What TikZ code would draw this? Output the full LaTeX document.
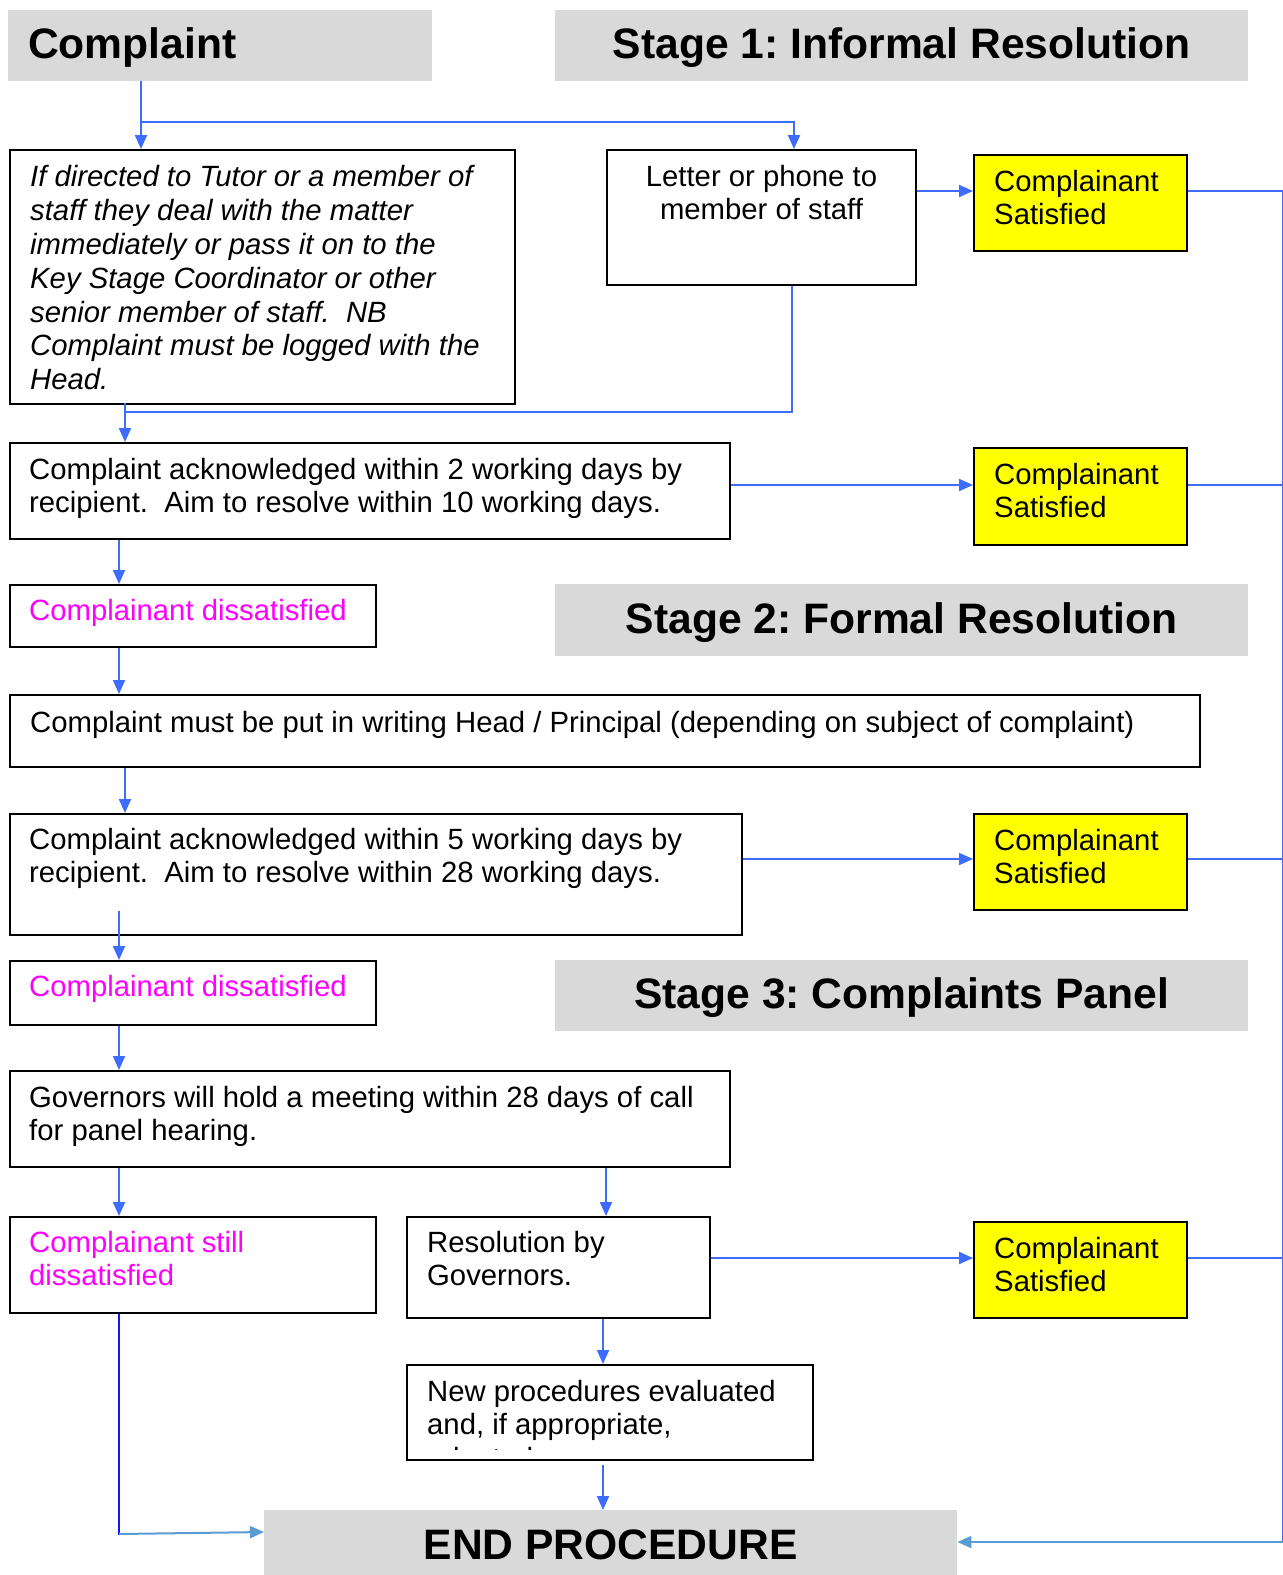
\documentclass[tikz,border=0pt]{standalone}
\usepackage{fontspec}
\setmainfont{Liberation Sans}
\usetikzlibrary{arrows.meta,calc}
\definecolor{hdrgray}{RGB}{217,217,217}
\definecolor{ln}{RGB}{61,108,255}
\definecolor{lnl}{RGB}{91,155,213}
\definecolor{lnd}{RGB}{20,20,250}
\definecolor{mag}{RGB}{255,0,255}
\definecolor{ylw}{RGB}{255,255,0}
\frenchspacing
\begin{document}
\begin{tikzpicture}[x=1pt,y=-1pt,
  box/.style={draw=black,line width=2pt,fill=white,inner sep=0pt,anchor=north west},
  ybox/.style={box,fill=ylw},
  hdr/.style={fill=hdrgray,inner sep=0pt,anchor=north west},
  txt/.style={anchor=north west,inner sep=0pt,align=left,font=\fontsize{29.3}{33.5}\selectfont},
  htxt/.style={inner sep=0pt,font=\fontsize{42.6}{50}\selectfont\bfseries},
  lnline/.style={draw=ln,line width=2pt},
  arr/.style={lnline,-{Triangle[width=12pt,length=14pt]}},
  arrl/.style={draw=lnl,line width=2pt,-{Triangle[width=12pt,length=14pt]}},
]
\useasboundingbox (0,0) rectangle (1283,1575);
\fill[white] (0,0) rectangle (1283,1575);

% headers
\node[hdr,minimum width=424,minimum height=71] (cmp) at (8,10) {};
\node[hdr,minimum width=693,minimum height=71] (s1) at (555,10) {};
\node[hdr,minimum width=693,minimum height=72] (s2) at (555,584) {};
\node[hdr,minimum width=693,minimum height=71] (s3) at (555,960) {};
\node[hdr,minimum width=693,minimum height=65] (endp) at (264,1510) {};
\node[htxt,anchor=west] (cmpt) at ($(cmp.west)+(20,2)$) {Complaint};
\node[htxt] (s1t) at ($(s1.center)+(0,2)$) {Stage 1: Informal Resolution};
\node[htxt] (s2t) at ($(s2.center)+(0,2)$) {Stage 2: Formal Resolution};
\node[htxt] (s3t) at ($(s3.center)+(0,2)$) {Stage 3: Complaints Panel};
\node[htxt] (endt) at ($(endp.center)+(0,2)$) {END PROCEDURE};

% boxes
\node[box,minimum width=505,minimum height=254] (ital) at (9,149) {};
\node[box,minimum width=309,minimum height=135] (letter) at (606,149) {};
\node[ybox,minimum width=213,minimum height=96] (y1) at (973,154) {};
\node[box,minimum width=720,minimum height=96] (ack1) at (9,442) {};
\node[ybox,minimum width=213,minimum height=97] (y2) at (973,447) {};
\node[box,minimum width=366,minimum height=62] (dis1) at (9,584) {};
\node[box,minimum width=1190,minimum height=72] (write) at (9,694) {};
\node[box,minimum width=732,minimum height=121] (ack2) at (9,813) {};
\node[ybox,minimum width=213,minimum height=96] (y3) at (973,813) {};
\node[box,minimum width=366,minimum height=64] (dis2) at (9,960) {};
\node[box,minimum width=720,minimum height=96] (gov) at (9,1070) {};
\node[box,minimum width=366,minimum height=96] (still) at (9,1216) {};
\node[box,minimum width=303,minimum height=101] (res) at (406,1216) {};
\node[ybox,minimum width=213,minimum height=96] (y4) at (973,1221) {};
\node[box,minimum width=406,minimum height=95] (newp) at (406,1364) {};

% texts
\node[txt,font=\fontsize{29.3}{33.9}\selectfont\itshape] (italt) at ($(ital.north west)+(21,16)$)
 {If directed to Tutor or a member of\\staff they deal with the matter\\immediately or pass it on to the\\Key Stage Coordinator or other\\senior member of staff.\ \ NB\\Complaint must be logged with the\\Head.};
\node[txt,anchor=north,align=center] (lettert) at ($(letter.north)+(0,16)$) {Letter or phone to\\member of staff};
\node[txt] (y1t) at ($(y1.north west)+(21,16)$) {Complainant\\Satisfied};
\node[txt] (ack1t) at ($(ack1.north west)+(20,16)$) {Complaint acknowledged within 2 working days by\\recipient.\ \ Aim to resolve within 10 working days.};
\node[txt] (y2t) at ($(y2.north west)+(21,16)$) {Complainant\\Satisfied};
\node[txt,text=mag] (dis1t) at ($(dis1.north west)+(20,15)$) {Complainant dissatisfied};
\node[txt] (writet) at ($(write.north west)+(21,17)$) {Complaint must be put in writing Head / Principal (depending on subject of complaint)};
\node[txt] (ack2t) at ($(ack2.north west)+(20,15)$) {Complaint acknowledged within 5 working days by\\recipient.\ \ Aim to resolve within 28 working days.};
\node[txt] (y3t) at ($(y3.north west)+(21,16)$) {Complainant\\Satisfied};
\node[txt,text=mag] (dis2t) at ($(dis2.north west)+(20,15)$) {Complainant dissatisfied};
\node[txt] (govt) at ($(gov.north west)+(20,16)$) {Governors will hold a meeting within 28 days of call\\for panel hearing.};
\node[txt,text=mag] (stillt) at ($(still.north west)+(20,15)$) {Complainant still\\dissatisfied};
\node[txt] (rest) at ($(res.north west)+(21,15)$) {Resolution by\\Governors.};
\node[txt] (y4t) at ($(y4.north west)+(21,16)$) {Complainant\\Satisfied};
\begin{scope}
\clip ($(newp.north west)+(1,1)$) rectangle ($(newp.south east)+(-1,-12)$);
\node[txt] (newpt) at ($(newp.north west)+(21,16)$) {New procedures evaluated\\and, if appropriate,\\adopted.};
\end{scope}

% connectors
\draw[arr] ($(cmp.south west)+(133,0)$) -- ($(ital.north west)+(132,0)$);
\draw[arr] ($(cmp.south west)+(133,41)$) -| ($(letter.north west)+(188,0)$);
\draw[lnline] ($(letter.south west)+(186,0)$) |- ($(ital.south west)+(116,7)$);
\draw[arr] ($(ital.south west)+(116,-2)$) -- ($(ack1.north west)+(116,0)$);
\draw[arr] ($(letter.north east)+(0,42)$) -- ($(y1.north west)+(0,37)$);
\draw[arr] ($(ack1.north east)+(0,43)$) -- ($(y2.north west)+(0,38)$);
\draw[arr] ($(ack1.south west)+(110,0)$) -- ($(dis1.north west)+(110,0)$);
\draw[arr] ($(dis1.south west)+(110,0)$) -- ($(write.north west)+(110,0)$);
\draw[arr] ($(write.south west)+(116,0)$) -- ($(ack2.north west)+(116,0)$);
\draw[arr] ($(ack2.north east)+(0,46)$) -- ($(y3.north west)+(0,46)$);
\draw[arr] ($(ack2.south west)+(110,-25)$) -- ($(dis2.north west)+(110,0)$);
\draw[arr] ($(dis2.south west)+(110,0)$) -- ($(gov.north west)+(110,0)$);
\draw[arr] ($(gov.south west)+(110,0)$) -- ($(still.north west)+(110,0)$);
\draw[arr] ($(gov.south west)+(597,0)$) -- ($(res.north west)+(200,0)$);
\draw[arr] ($(res.north east)+(0,42)$) -- ($(y4.north west)+(0,37)$);
\draw[arr] ($(res.south west)+(197,0)$) -- ($(newp.north west)+(197,0)$);
\draw[arr] ($(newp.south west)+(197,4)$) -- ($(endp.north west)+(339,0)$);
\draw[draw=lnd,line width=2pt] ($(still.south west)+(110,0)$) -- ($(still.south west)+(110,221)$);
\draw[arrl] ($(still.south west)+(110,220)$) -- ($(endp.north west)+(0,22)$);
% right side return
\draw[lnline] ($(y1.north east)+(0,37)$) -- ++(95,0);
\draw[lnline] ($(y2.north east)+(0,38)$) -- ++(95,0);
\draw[lnline] ($(y3.north east)+(0,46)$) -- ++(95,0);
\draw[lnline] ($(y4.north east)+(0,37)$) -- ++(95,0);
\draw[lnline] ($(y1.north east)+(95,36)$) -- ($(y1.north east)+(95,1389)$);
\draw[arrl] ($(y1.north east)+(95,1388)$) -- ($(endp.north east)+(0,32)$);
\end{tikzpicture}
\end{document}
